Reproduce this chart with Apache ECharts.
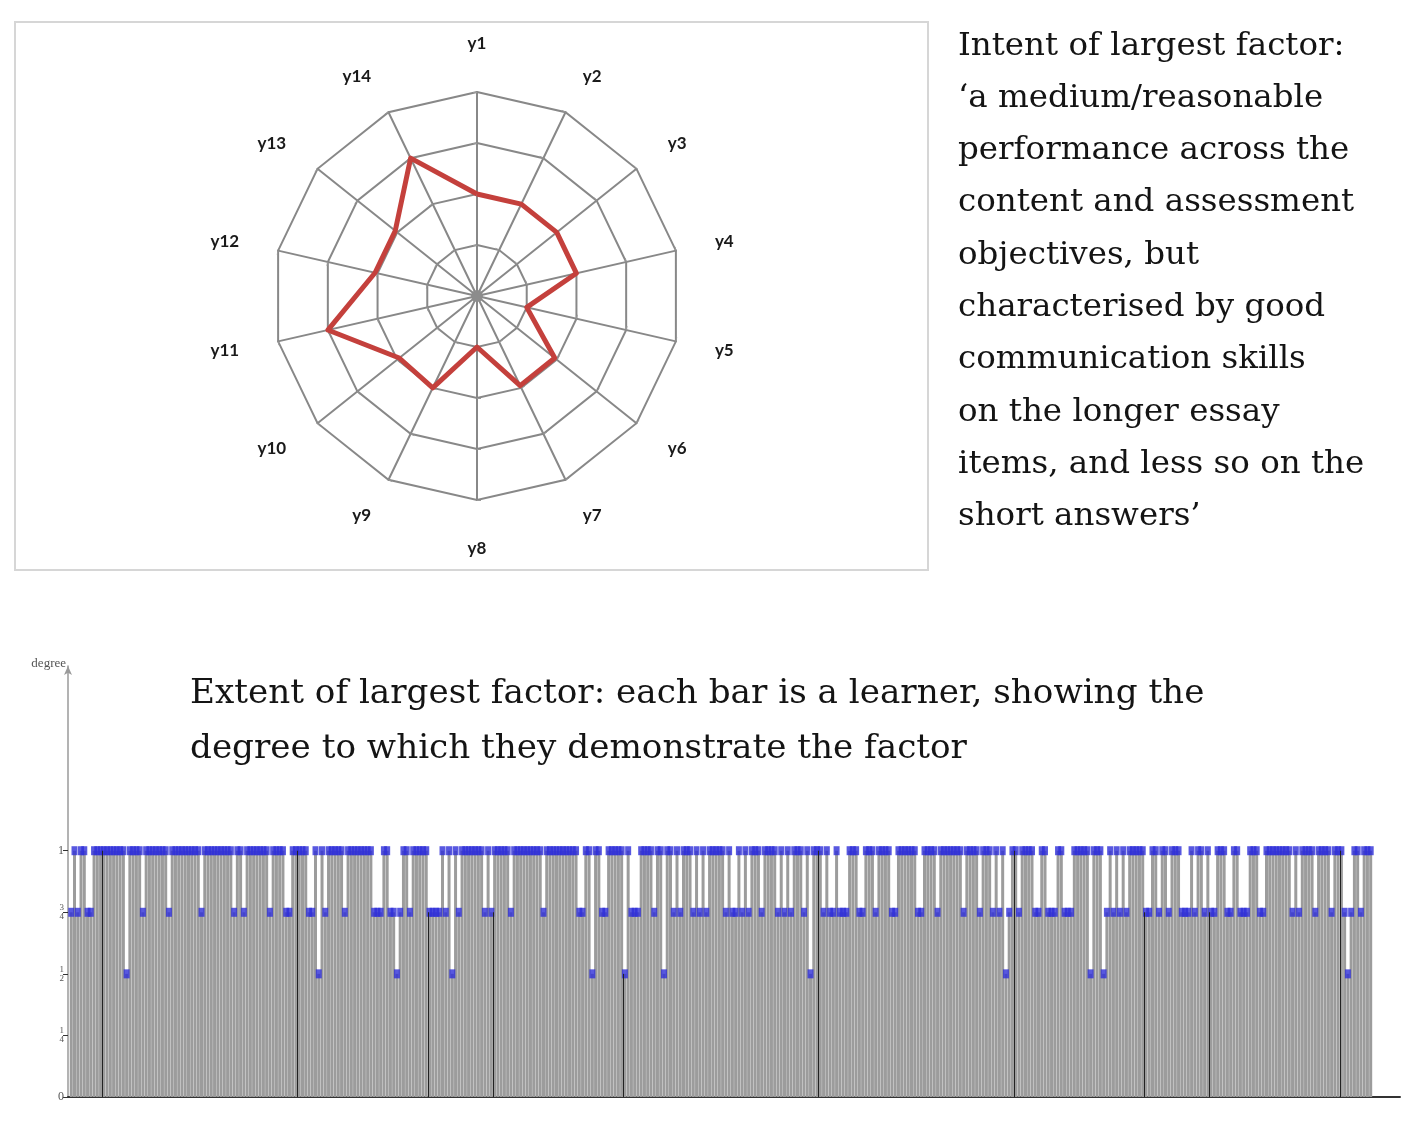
<!DOCTYPE html>
<html>
<head>
<meta charset="utf-8">
<title>Largest factor</title>
<script src="https://cdn.jsdelivr.net/npm/echarts@6/dist/echarts.min.js"></script>
<style>
  html, body { margin: 0; padding: 0; background: #fff; }
  #main { width: 1417px; height: 1128px; }
</style>
</head>
<body>
<div id="main"></div>
<script>
// radar: intent of largest factor
var radarAxes = ['y1', 'y2', 'y3', 'y4', 'y5', 'y6', 'y7', 'y8', 'y9', 'y10', 'y11', 'y12', 'y13', 'y14'];
var radarValues = [2.0, 2.0, 2.0, 2.0, 1.0, 1.95, 1.95, 1.0, 2.0, 1.95, 3.0, 2.05, 2.05, 3.0];
var radarMax = 4;

// bars: one per learner, all at degree 1 except these
var learnerCount = 400;
var threeQuarterLearners = [1, 3, 6, 7, 23, 31, 41, 51, 54, 62, 67, 68, 74, 75, 79, 85, 94, 95, 96, 99, 100, 102, 105,
  111, 112, 113, 114, 116, 120, 128, 130, 136, 146, 157, 158, 164, 165, 173, 174, 175, 180, 186, 188, 192, 194, 196,
  202, 204, 205, 207, 209, 213, 218, 220, 222, 226, 232, 234, 235, 237, 238, 239, 243, 244, 248, 253, 254, 261, 262,
  267, 275, 280, 284, 286, 289, 292, 297, 298, 301, 302, 303, 306, 307, 308, 319, 321, 323, 325, 331, 332, 335, 338,
  342, 343, 344, 346, 349, 351, 352, 356, 357, 360, 361, 362, 366, 367, 376, 378, 383, 388, 392, 394, 397];
var halfLearners = [18, 77, 101, 118, 161, 171, 183, 228, 288, 314, 318, 393];
var dividerAfter = [10, 70, 110, 130, 170, 230, 290, 330, 350, 390];
var degreeTicks = [0, 0.25, 0.5, 0.75, 1];
var degreeLabels = ['0', '1/4', '1/2', '3/4', '1'];

var introText = [
  'Intent of largest factor:',
  '\u2018a medium/reasonable',
  'performance across the',
  'content and assessment',
  'objectives, but',
  'characterised by good',
  'communication skills',
  'on the longer essay',
  'items, and less so on the',
  'short answers\u2019'
];
var extentText = [
  'Extent of largest factor: each bar is a learner, showing the',
  'degree to which they demonstrate the factor'
];

function degreeOf(n) {
  if (halfLearners.indexOf(n) >= 0) return 0.5;
  if (threeQuarterLearners.indexOf(n) >= 0) return 0.75;
  return 1;
}

var degrees = [];
for (var n = 1; n <= learnerCount; n++) {
  degrees.push([n, degreeOf(n)]);
}

// echarts radar runs anticlockwise, the picture runs clockwise
var order = [0];
for (var k = radarAxes.length - 1; k > 0; k--) order.push(k);

var radarCenter = [477, 296];

var myChart = echarts.init(document.getElementById('main'));
var option = {
  backgroundColor: '#fff',
  animation: false,
  graphic: [
    {
      type: 'rect',
      shape: { x: 15, y: 22, width: 913, height: 548 },
      style: { fill: 'none', stroke: '#d6d6d6', lineWidth: 2 }
    },
    {
      type: 'circle',
      shape: { cx: radarCenter[0], cy: radarCenter[1], r: 6 },
      style: { fill: '#8c8c8c' },
      z: 10
    },
    {
      type: 'text',
      left: 958,
      top: 20,
      style: {
        text: introText.join('\n'),
        font: '32.5px "DejaVu Serif"',
        lineHeight: 52.3,
        fill: '#141414'
      }
    },
    {
      type: 'text',
      left: 190,
      top: 667,
      style: {
        text: extentText.join('\n'),
        font: '34.2px "DejaVu Serif"',
        lineHeight: 55,
        fill: '#141414'
      }
    }
  ],
  radar: {
    center: radarCenter,
    radius: 204,
    startAngle: 90,
    splitNumber: 4,
    shape: 'polygon',
    indicator: order.map(function (i) { return { name: radarAxes[i], min: 0, max: radarMax }; }),
    axisName: {
      color: '#1a1a1a',
      fontFamily: 'Lato',
      fontWeight: 'bold',
      fontSize: 17
    },
    nameGap: 40,
    axisLine: { lineStyle: { color: '#888', width: 2 } },
    splitLine: { lineStyle: { color: '#888', width: 2 } },
    splitArea: { show: false },
    axisTick: { show: true, length: 4, lineStyle: { color: '#999' } }
  },
  grid: { left: 68, right: 17, top: 666, bottom: 31 },
  xAxis: {
    type: 'value',
    min: 0,
    max: 409,
    axisLine: { show: true, lineStyle: { color: '#333', width: 2 } },
    axisTick: { show: false },
    axisLabel: { show: false },
    splitLine: { show: false }
  },
  yAxis: {
    type: 'value',
    min: 0,
    max: 1.75,
    interval: 0.25,
    name: 'degree',
    nameLocation: 'end',
    nameGap: 2,
    nameTextStyle: {
      fontFamily: 'Liberation Serif',
      fontSize: 13,
      color: '#555',
      align: 'right',
      verticalAlign: 'middle',
      padding: [0, 2, 0, 0]
    },
    axisLine: {
      show: true,
      symbol: ['none', 'arrow'],
      symbolSize: [6, 9],
      lineStyle: { color: '#9a9a9a', width: 1.5 }
    },
    axisTick: {
      show: true,
      customValues: degreeTicks,
      length: 5,
      lineStyle: { color: '#333' }
    },
    axisLabel: {
      customValues: degreeTicks,
      margin: 4,
      formatter: function (v) {
        var s = degreeLabels[degreeTicks.indexOf(v)];
        if (s.indexOf('/') < 0) return '{w|' + s + '}';
        var p = s.split('/');
        return '{f|' + p[0] + '}\n{f|' + p[1] + '}';
      },
      rich: {
        w: { fontSize: 12, fontFamily: 'Liberation Serif', color: '#555' },
        f: { fontSize: 9, lineHeight: 9, fontFamily: 'Liberation Serif', color: '#555' }
      }
    },
    splitLine: { show: false }
  },
  series: [
    {
      type: 'radar',
      symbol: 'none',
      lineStyle: { color: '#c4403c', width: 5 },
      data: [{ value: order.map(function (i) { return radarValues[i]; }) }]
    },
    {
      type: 'bar',
      barWidth: 3,
      itemStyle: { color: '#9c9c9c' },
      data: degrees,
      markLine: {
        silent: true,
        symbol: 'none',
        label: { show: false },
        lineStyle: { color: '#222', width: 1, type: 'solid' },
        data: dividerAfter.map(function (b) {
          var top = Math.min(degreeOf(b), degreeOf(b + 1));
          return [{ coord: [b + 0.5, 0] }, { coord: [b + 0.5, top] }];
        })
      }
    },
    {
      type: 'scatter',
      symbol: 'rect',
      symbolSize: [6, 9],
      itemStyle: { color: '#2e2ed8' },
      data: degrees,
      z: 3
    }
  ]
};
myChart.setOption(option);
</script>
</body>
</html>
